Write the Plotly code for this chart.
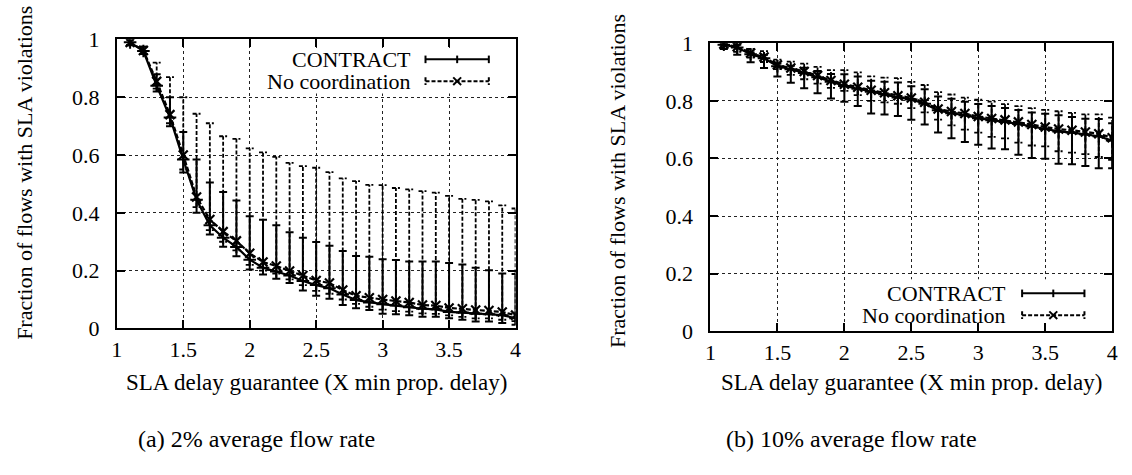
import plotly.graph_objects as go

# ---------------- data ----------------
x_vals = [1.1, 1.2, 1.3, 1.4, 1.5, 1.6, 1.7, 1.8, 1.9, 2.0,
          2.1, 2.2, 2.3, 2.4, 2.5, 2.6, 2.7, 2.8, 2.9, 3.0,
          3.1, 3.2, 3.3, 3.4, 3.5, 3.6, 3.7, 3.8, 3.9, 4.0]

# (a) 2% average flow rate
a_contract_mean = [0.99, 0.96, 0.84, 0.73, 0.585, 0.445, 0.357, 0.314, 0.282, 0.238,
                   0.21, 0.197, 0.183, 0.164, 0.15, 0.139, 0.117, 0.098, 0.09, 0.084,
                   0.079, 0.073, 0.068, 0.066, 0.057, 0.055, 0.051, 0.049, 0.046, 0.035]
a_contract_lo = [0.98, 0.95, 0.82, 0.70, 0.54, 0.40, 0.325, 0.283, 0.25, 0.204,
                 0.187, 0.172, 0.157, 0.131, 0.113, 0.103, 0.081, 0.07, 0.064, 0.051,
                 0.049, 0.046, 0.04, 0.04, 0.035, 0.03, 0.024, 0.024, 0.019, 0.013]
a_contract_hi = [1.0, 0.975, 0.88, 0.80, 0.68, 0.585, 0.505, 0.472, 0.443, 0.388,
                 0.376, 0.357, 0.333, 0.314, 0.299, 0.286, 0.268, 0.251, 0.248, 0.239,
                 0.237, 0.232, 0.232, 0.232, 0.226, 0.221, 0.21, 0.201, 0.19, 0.188]
a_nocoord_mean = [0.99, 0.962, 0.855, 0.74, 0.60, 0.455, 0.377, 0.335, 0.303, 0.26,
                  0.23, 0.216, 0.199, 0.183, 0.166, 0.157, 0.133, 0.113, 0.106, 0.10,
                  0.095, 0.09, 0.081, 0.079, 0.071, 0.068, 0.064, 0.062, 0.057, 0.046]
a_nocoord_lo = [0.98, 0.95, 0.83, 0.71, 0.55, 0.42, 0.34, 0.30, 0.27, 0.22,
                0.20, 0.19, 0.17, 0.15, 0.13, 0.12, 0.10, 0.085, 0.075, 0.065,
                0.06, 0.058, 0.052, 0.05, 0.045, 0.04, 0.035, 0.035, 0.03, 0.025]
a_nocoord_hi = [1.0, 0.975, 0.92, 0.87, 0.80, 0.743, 0.71, 0.665, 0.656, 0.623,
                0.609, 0.594, 0.573, 0.562, 0.556, 0.541, 0.519, 0.51, 0.497, 0.496,
                0.486, 0.481, 0.475, 0.47, 0.459, 0.448, 0.445, 0.44, 0.426, 0.415]

# (b) 10% average flow rate
b_contract_mean = [0.995, 0.985, 0.962, 0.948, 0.92, 0.91, 0.897, 0.882, 0.866, 0.852,
                   0.842, 0.832, 0.823, 0.812, 0.805, 0.79, 0.767, 0.757, 0.75, 0.74,
                   0.733, 0.727, 0.72, 0.711, 0.702, 0.694, 0.69, 0.684, 0.677, 0.662]
b_contract_lo = [0.98, 0.96, 0.934, 0.914, 0.885, 0.863, 0.844, 0.826, 0.808, 0.797,
                 0.782, 0.756, 0.753, 0.747, 0.734, 0.718, 0.69, 0.67, 0.657, 0.648,
                 0.635, 0.632, 0.613, 0.602, 0.599, 0.582, 0.58, 0.574, 0.566, 0.566]
b_contract_hi = [0.995, 0.995, 0.968, 0.96, 0.93, 0.922, 0.915, 0.904, 0.893, 0.892,
                 0.885, 0.87, 0.866, 0.864, 0.851, 0.84, 0.815, 0.807, 0.797, 0.789,
                 0.782, 0.775, 0.768, 0.76, 0.755, 0.75, 0.744, 0.738, 0.737, 0.722]
b_nocoord_mean = [0.997, 0.988, 0.966, 0.952, 0.925, 0.914, 0.902, 0.888, 0.871, 0.858,
                  0.847, 0.837, 0.828, 0.818, 0.81, 0.795, 0.772, 0.763, 0.756, 0.746,
                  0.739, 0.734, 0.727, 0.718, 0.709, 0.702, 0.698, 0.692, 0.686, 0.672]
b_nocoord_lo = [0.985, 0.97, 0.95, 0.935, 0.91, 0.89, 0.875, 0.86, 0.845, 0.835,
                0.82, 0.80, 0.795, 0.79, 0.775, 0.76, 0.735, 0.715, 0.70, 0.69,
                0.675, 0.67, 0.655, 0.645, 0.642, 0.625, 0.62, 0.615, 0.605, 0.595]
b_nocoord_hi = [1.0, 1.0, 0.98, 0.973, 0.943, 0.936, 0.929, 0.918, 0.907, 0.907,
                0.899, 0.885, 0.881, 0.879, 0.866, 0.855, 0.83, 0.822, 0.811, 0.804,
                0.797, 0.789, 0.782, 0.775, 0.769, 0.764, 0.758, 0.753, 0.753, 0.742]

x_tick_vals = [1, 1.5, 2, 2.5, 3, 3.5, 4]
x_tick_text = ["1", "1.5", "2", "2.5", "3", "3.5", "4"]
y_tick_vals = [0, 0.2, 0.4, 0.6, 0.8, 1]
y_tick_text = ["0", "0.2", "0.4", "0.6", "0.8", "1"]

series_names = ["CONTRACT", "No coordination"]
x_title = "SLA delay guarantee (X min prop. delay)"
y_title = "Fraction of flows with SLA violations"
captions = ["(a) 2% average flow rate", "(b) 10% average flow rate"]

# ---------------- layout constants ----------------
W, H = 1132, 475
FONT = "Liberation Serif"
CAP = 0.03  # half width of error-bar caps in x data units


def px(x):
    return x / W


def py(y):
    return 1 - y / H


def bar_path(xs, lo, hi):
    bx, by = [], []
    for x, l, h in zip(xs, lo, hi):
        bx += [x, x, None, x - CAP, x + CAP, None, x - CAP, x + CAP, None]
        by += [l, h, None, l, l, None, h, h, None]
    return bx, by


fig = go.Figure()

panels = [
    dict(xa="x", ya="y",
         c=(a_contract_mean, a_contract_lo, a_contract_hi),
         n=(a_nocoord_mean, a_nocoord_lo, a_nocoord_hi)),
    dict(xa="x2", ya="y2",
         c=(b_contract_mean, b_contract_lo, b_contract_hi),
         n=(b_nocoord_mean, b_nocoord_lo, b_nocoord_hi)),
]

for p in panels:
    nm, nl, nh = p["n"]
    cm, cl, ch = p["c"]
    bx, by = bar_path(x_vals, nl, nh)
    fig.add_trace(go.Scatter(x=bx, y=by, mode="lines", xaxis=p["xa"], yaxis=p["ya"],
                             line=dict(color="black", width=1.8, dash="4px,2px"),
                             showlegend=False, hoverinfo="skip"))
    cx_, cy_ = bar_path(x_vals, cl, ch)
    fig.add_trace(go.Scatter(x=cx_, y=cy_, mode="lines", xaxis=p["xa"], yaxis=p["ya"],
                             line=dict(color="black", width=2),
                             showlegend=False, hoverinfo="skip"))
    fig.add_trace(go.Scatter(x=x_vals, y=nm, mode="lines+markers", name=series_names[1],
                             xaxis=p["xa"], yaxis=p["ya"],
                             line=dict(color="black", width=2.2, dash="5px,2px"),
                             marker=dict(symbol="x-thin-open", size=9,
                                         line=dict(color="black", width=2.2)),
                             showlegend=False))
    fig.add_trace(go.Scatter(x=x_vals, y=cm, mode="lines+markers", name=series_names[0],
                             xaxis=p["xa"], yaxis=p["ya"],
                             line=dict(color="black", width=2.2),
                             marker=dict(symbol="cross-thin-open", size=9,
                                         line=dict(color="black", width=2)),
                             showlegend=False))

axis_common = dict(
    range=[1, 4], showline=True, linecolor="black", linewidth=2, mirror="allticks",
    ticks="inside", ticklen=8, tickwidth=1.5, tickcolor="black",
    showgrid=True, gridcolor="#222", gridwidth=1, griddash="dot",
    zeroline=False, tickfont=dict(family=FONT, size=22, color="black"),
)
xax = dict(axis_common, tickvals=x_tick_vals, ticktext=x_tick_text)
yax = dict(axis_common, range=[0, 1], tickvals=y_tick_vals,
           ticktext=[t + "\u2002" for t in y_tick_text])

left_box = (112, 515, 29, 334)
right_box = (712, 1118, 33, 337)

fig.update_layout(
    width=W, height=H, margin=dict(l=0, r=0, t=0, b=0),
    paper_bgcolor="white", plot_bgcolor="white",
    showlegend=False,
    xaxis=dict(xax, domain=[px(left_box[0]), px(left_box[1])], anchor="y"),
    yaxis=dict(yax, domain=[py(left_box[3]), py(left_box[2])], anchor="x"),
    xaxis2=dict(xax, domain=[px(right_box[0]), px(right_box[1])], anchor="y2"),
    yaxis2=dict(yax, domain=[py(right_box[3]), py(right_box[2])], anchor="x2"),
)

annotations = []
shapes = []

for box, cap, ytx, ytc in [(left_box, captions[0], 18, 170), (right_box, captions[1], 618, 178)]:
    cx = (box[0] + box[1]) / 2
    annotations.append(dict(text=x_title, xref="paper", yref="paper", x=px(cx), y=py(391),
                            xanchor="center", yanchor="middle", showarrow=False,
                            font=dict(family=FONT, size=23, color="black")))
    annotations.append(dict(text=cap, xref="paper", yref="paper", x=px(cx - 60), y=py(451),
                            xanchor="center", yanchor="middle", showarrow=False,
                            font=dict(family=FONT, size=24, color="black")))
    annotations.append(dict(text=y_title, xref="paper", yref="paper", x=px(ytx),
                            y=py(ytc), textangle=-90,
                            xanchor="center", yanchor="middle", showarrow=False,
                            font=dict(family=FONT, size=22, color="black")))

# legends (key drawn on the right side of the labels, gnuplot style)
legends = [
    dict(clear=(258, 510, 38, 86), text_right=411, key=(424, 488), rows=(50, 73)),
    dict(clear=(858, 1112, 282, 328), text_right=1013, key=(1027, 1090), rows=(297, 320)),
]
for lg in legends:
    x0, x1, y0, y1 = lg["clear"]
    shapes.append(dict(type="rect", xref="paper", yref="paper", layer="above",
                       x0=px(x0), x1=px(x1), y0=py(y1), y1=py(y0),
                       fillcolor="white", line=dict(width=0)))
    k0, k1 = lg["key"]
    km = (k0 + k1) / 2
    for i, (name, yy) in enumerate(zip(series_names, lg["rows"])):
        annotations.append(dict(text=name, xref="paper", yref="paper", x=px(lg["text_right"]),
                                y=py(yy), xanchor="right", yanchor="middle", showarrow=False,
                                font=dict(family=FONT, size=22, color="black")))
        dash = "solid" if i == 0 else "4px,2px"
        shapes.append(dict(type="line", xref="paper", yref="paper",
                           x0=px(k0), x1=px(k1), y0=py(yy), y1=py(yy),
                           line=dict(color="black", width=2, dash=dash)))
        for kx in (k0, k1):
            shapes.append(dict(type="line", xref="paper", yref="paper",
                               x0=px(kx), x1=px(kx), y0=py(yy - 4), y1=py(yy + 4),
                               line=dict(color="black", width=2, dash=dash)))
        if i == 0:
            shapes.append(dict(type="line", xref="paper", yref="paper",
                               x0=px(km), x1=px(km), y0=py(yy - 4), y1=py(yy + 4),
                               line=dict(color="black", width=2)))
        else:
            for sgn in (1, -1):
                shapes.append(dict(type="line", xref="paper", yref="paper",
                                   x0=px(km - 4), x1=px(km + 4), y0=py(yy - 4 * sgn),
                                   y1=py(yy + 4 * sgn),
                                   line=dict(color="black", width=2)))

fig.update_layout(annotations=annotations, shapes=shapes)
fig.write_html("out.html")
